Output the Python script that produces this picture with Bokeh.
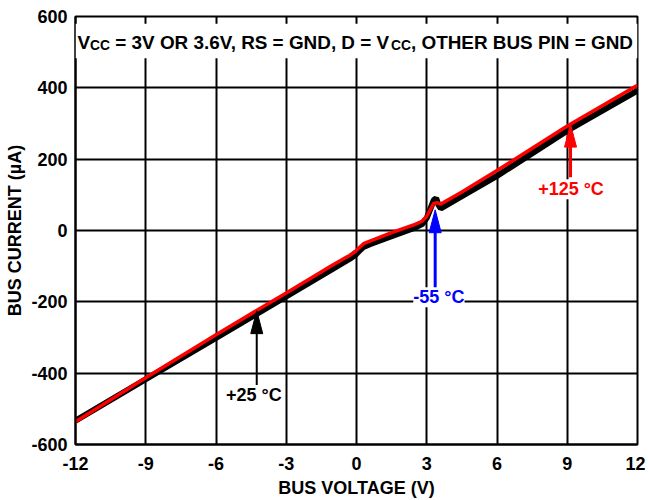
from bokeh.plotting import figure
from bokeh.models import Range1d, FixedTicker, Label, BoxAnnotation
from bokeh.embed import file_html
from bokeh.resources import INLINE

# ---------------- data ----------------
volt_25 = [-12, -9, -6, -3, -1, -0.3, -0.05, 0.1, 0.3, 0.6, 1.5, 2.5, 2.8, 3.0, 3.15, 3.3, 3.4, 3.5, 3.6, 4.5, 6, 9, 12]
curr_25 = [-533, -417, -301, -185, -107, -80, -69, -58, -46, -38, -16, 8, 18, 35, 60, 85, 90, 72, 62, 96, 153, 280, 392]

volt_m55 = [-12, -9, -6, -3, -1, -0.3, -0.1, 0.1, 0.3, 0.6, 1.5, 2.5, 2.8, 3.0, 3.15, 3.3, 3.4, 3.5, 3.6, 4.5, 6, 9, 12]
curr_m55 = [-534, -418, -302, -186, -105, -76, -62, -55, -45, -37, -15, 9, 19, 36, 61, 86, 89, 71, 61, 95, 152, 279, 391]

volt_125 = [-12, -9, -6, -3, -1, -0.3, -0.05, 0.1, 0.3, 0.6, 1.5, 2.5, 2.8, 3.0, 3.15, 3.3, 3.45, 3.6, 4.5, 6, 9, 12]
curr_125 = [-536, -413, -292, -175, -96, -70, -59, -49, -37, -29, -6, 17, 26, 40, 58, 76, 78, 74, 108, 168, 293, 407]

x_ticks = [-12, -9, -6, -3, 0, 3, 6, 9, 12]
y_ticks = [-600, -400, -200, 0, 200, 400, 600]

arrow_x = [-4.26, 3.36, 9.14]
arrow_tip = [-225, 58, 298]
arrow_tail = [-433, -170, 149]
arrow_colors = ["black", "#0000ff", "#ff0000"]
arrow_widths = [2, 3, 3]

label_text = ["+25 °C", "-55 °C", "+125 °C"]
label_x = [-4.38, 3.52, 9.16]
label_y = [-462, -187, 116]

title_parts = [("V", "main"), ("CC", "sub"), (" = 3V OR 3.6V, RS = GND, D = V", "main"),
               ("CC", "sub"), (", OTHER BUS PIN = GND", "main")]

# ---------------- layout constants ----------------
W, H = 645, 500
BL, BR, BT, BB = 75, 8, 16, 54
FW, FH = W - BL - BR, H - BT - BB
X0, X1, Y0, Y1 = -12, 12, -600, 600
px_per_x = FW / (X1 - X0)
px_per_y = FH / (Y1 - Y0)
FONT = "Liberation Sans"

p = figure(width=W, height=H, output_backend="svg", toolbar_location=None,
           min_border_left=BL, min_border_right=BR, min_border_top=BT, min_border_bottom=BB,
           x_range=Range1d(X0, X1), y_range=Range1d(Y0, Y1))
p.background_fill_color = "white"
p.border_fill_color = "white"
p.outline_line_color = "black"
p.outline_line_width = 2

for ax in (p.xaxis[0], p.yaxis[0]):
    ax.axis_line_width = 2
    ax.axis_line_color = "black"
    ax.major_tick_out = 0
    ax.major_tick_in = 0
    ax.minor_tick_out = 0
    ax.minor_tick_in = 0
    ax.major_label_text_font = FONT
    ax.major_label_text_font_style = "bold"
    ax.major_label_text_font_size = "18px"
    ax.major_label_text_color = "black"
    ax.axis_label_text_font = FONT
    ax.axis_label_text_font_style = "bold"
    ax.axis_label_text_font_size = "18px"
    ax.axis_label_text_color = "black"

p.xaxis.major_label_standoff = 12
p.xaxis.axis_label_standoff = 5
p.yaxis.major_label_standoff = 8
p.yaxis.axis_label_standoff = 3

p.xaxis.ticker = FixedTicker(ticks=x_ticks)
p.yaxis.ticker = FixedTicker(ticks=y_ticks)
p.xaxis.major_label_overrides = {t: str(t) for t in x_ticks}
p.yaxis.major_label_overrides = {t: str(t) for t in y_ticks}
p.xaxis.axis_label = "BUS VOLTAGE (V)"
p.yaxis.axis_label = "BUS CURRENT (µA)"

for g in (p.xgrid[0], p.ygrid[0]):
    g.grid_line_color = "black"
    g.grid_line_width = 2
    g.grid_line_alpha = 1

# curves
p.line(volt_m55, curr_m55, line_color="#0000ff", line_width=4)
p.line(volt_25, curr_25, line_color="black", line_width=6)
p.line(volt_125, curr_125, line_color="#ff0000", line_width=3.5)

# title box
p.add_layout(BoxAnnotation(bottom=483, top=580, fill_color="white", fill_alpha=1,
                           line_alpha=0, level="annotation"))

# arrows: shafts and heads
HEAD_LEN, HEAD_W = 23, 12
for x, tip, tail, c, w in zip(arrow_x, arrow_tip, arrow_tail, arrow_colors, arrow_widths):
    base = tip - HEAD_LEN / px_per_y
    p.segment(x0=[x], y0=[tail], x1=[x], y1=[base + 2 / px_per_y], line_color=c, line_width=w)
    hw = HEAD_W / 2 / px_per_x
    p.patch([x - hw, x, x + hw], [base, tip, base], fill_color=c, line_color=c, line_width=1)

for t, x, y, c in zip(label_text, label_x, label_y, arrow_colors):
    p.add_layout(Label(x=x, y=y, text=t, text_align="center", text_baseline="middle",
                       text_font=FONT, text_font_style="bold", text_font_size="18px",
                       text_color=c, background_fill_color="white", background_fill_alpha=1))

# title composed of pieces with subscripts
AW = {"V": .667, "C": .722, " ": .278, "=": .584, "3": .556, "O": .778, "R": .722, ".": .278,
      "6": .556, ",": .278, "S": .667, "G": .778, "N": .722, "D": .722, "T": .611, "H": .722,
      "E": .667, "B": .722, "U": .722, "P": .667, "I": .278}
MAIN_FS, SUB_FS = 18.9, 13.8
start_x = X0 + 2 / px_per_x
main_y = 527.4
sub_y = 517.7
offset = 0.0
for text, kind in title_parts:
    fs = MAIN_FS if kind == "main" else SUB_FS
    lead = len(text) - len(text.lstrip(" "))
    offset += sum(AW[ch] for ch in text[:lead]) * fs
    body = text.lstrip(" ")
    p.add_layout(Label(x=start_x, y=main_y if kind == "main" else sub_y, x_offset=offset,
                       text=body, text_align="left", text_baseline="alphabetic",
                       text_font=FONT, text_font_style="bold", text_font_size=f"{fs}px",
                       text_color="black"))
    offset += sum(AW[ch] for ch in body) * fs

open("out.html", "w").write(file_html(p, INLINE))
